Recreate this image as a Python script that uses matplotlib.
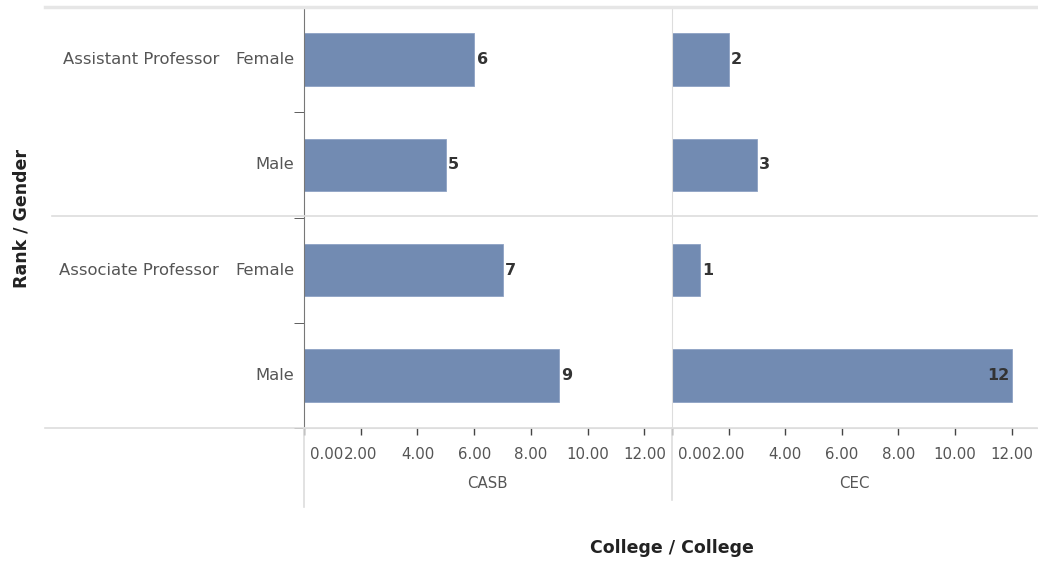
import matplotlib.pyplot as plt
import matplotlib.transforms as mtransforms
from matplotlib.lines import Line2D

# data
ranks = ['Assistant Professor', 'Associate Professor']
genders = ['Female', 'Male', 'Female', 'Male']
colleges = ['CASB', 'CEC']
casb_counts = [6, 5, 7, 9]
cec_counts = [2, 3, 1, 12]
x_ticks = [0, 2, 4, 6, 8, 10, 12]
x_tick_labels = ['0.00', '2.00', '4.00', '6.00', '8.00', '10.00', '12.00']

bar_color = '#728bb2'
text_color = '#555555'
line_color = '#dddddd'

W, H = 1038, 562
fig = plt.figure(figsize=(W / 100, H / 100), dpi=100)
fig.patch.set_facecolor('white')
plt.rcParams['font.family'] = 'DejaVu Sans'


def fx(px):
    return px / W


def fy(py):
    return 1 - py / H


top_px, bot_px = 7, 428
ax1 = fig.add_axes([fx(304), fy(bot_px), fx(670 - 304), (bot_px - top_px) / H])
ax2 = fig.add_axes([fx(672), fy(bot_px), fx(1037 - 672), (bot_px - top_px) / H])

rows = list(range(len(genders)))

for ax, counts, name in zip([ax1, ax2], [casb_counts, cec_counts], colleges):
    ax.barh(rows, counts, height=0.5, color=bar_color, edgecolor='#8ea2c4', linewidth=0.6)
    xmax = 12.9
    ax.set_xlim(0, xmax)
    ax.set_ylim(len(rows) - 0.5, -0.5)
    for r, v in zip(rows, counts):
        if v > xmax - 1:
            ax.text(v - 0.08, r, str(v), ha='right', va='center', fontsize=11.5,
                    fontweight='bold', color='#333333')
        else:
            ax.text(v + 0.08, r, str(v), ha='left', va='center', fontsize=11.5,
                    fontweight='bold', color='#333333')
    for s in ['top', 'right']:
        ax.spines[s].set_visible(False)
    ax.spines['bottom'].set_color(line_color)
    ax.spines['bottom'].set_zorder(0.5)
    ax.set_xticks(x_ticks)
    ax.set_xticklabels(x_tick_labels, fontsize=10.8, color=text_color)
    ax.tick_params(axis='x', length=5, width=1, color='#444444', pad=9)
    # first label pushed to the right like tableau does
    lab0 = ax.get_xticklabels()[0]
    lab0.set_ha('left')
    lab0.set_transform(lab0.get_transform() +
                       mtransforms.ScaledTranslation(6 / 100, 0, fig.dpi_scale_trans))
    ax.text(0.5, -0.131, name, transform=ax.transAxes, ha='center', va='center',
            fontsize=10.8, color=text_color)

# left axis on first panel
ax1.spines['left'].set_color('#777777')
ax1.set_yticks(rows)
ax1.set_yticklabels(genders, fontsize=11.8, color=text_color, va='center')
ax1.tick_params(axis='y', which='major', length=0, pad=7)
ax1.set_yticks([0.5, 1.5, 2.5, 3.5], minor=True)
ax1.tick_params(axis='y', which='minor', length=7, color='#444444')

ax2.spines['left'].set_color(line_color)
ax2.set_yticks([])

# rank labels on the first row of each group
tr = mtransforms.blended_transform_factory(fig.transFigure, ax1.transData)
for i, rk in enumerate(ranks):
    ax1.text(fx(219), i * 2, rk, transform=tr, ha='right', va='center',
             fontsize=11.8, color=text_color, clip_on=False)

# grid lines of the table
fig.add_artist(Line2D([fx(45), fx(1037)], [fy(6.5), fy(6.5)], color='#e6e6e6', lw=2.5))
fig.add_artist(Line2D([fx(52), fx(1037)], [fy(216), fy(216)], color=line_color, lw=1.2))
fig.add_artist(Line2D([fx(45), fx(1037)], [fy(428), fy(428)], color=line_color, lw=1.2, zorder=0.5))
fig.add_artist(Line2D([fx(304), fx(304)], [fy(428), fy(507)], color=line_color, lw=1.2))
fig.add_artist(Line2D([fx(672), fx(672)], [fy(428), fy(500)], color=line_color, lw=1.2))

fig.text(fx(22), fy(218), 'Rank / Gender', rotation=90, ha='center', va='center',
         fontsize=12.5, fontweight='bold', color='#222222')
fig.text(fx(672), fy(548), 'College / College', ha='center', va='center',
         fontsize=12.5, fontweight='bold', color='#222222')

fig.savefig('out.png', dpi=100, facecolor='white')
